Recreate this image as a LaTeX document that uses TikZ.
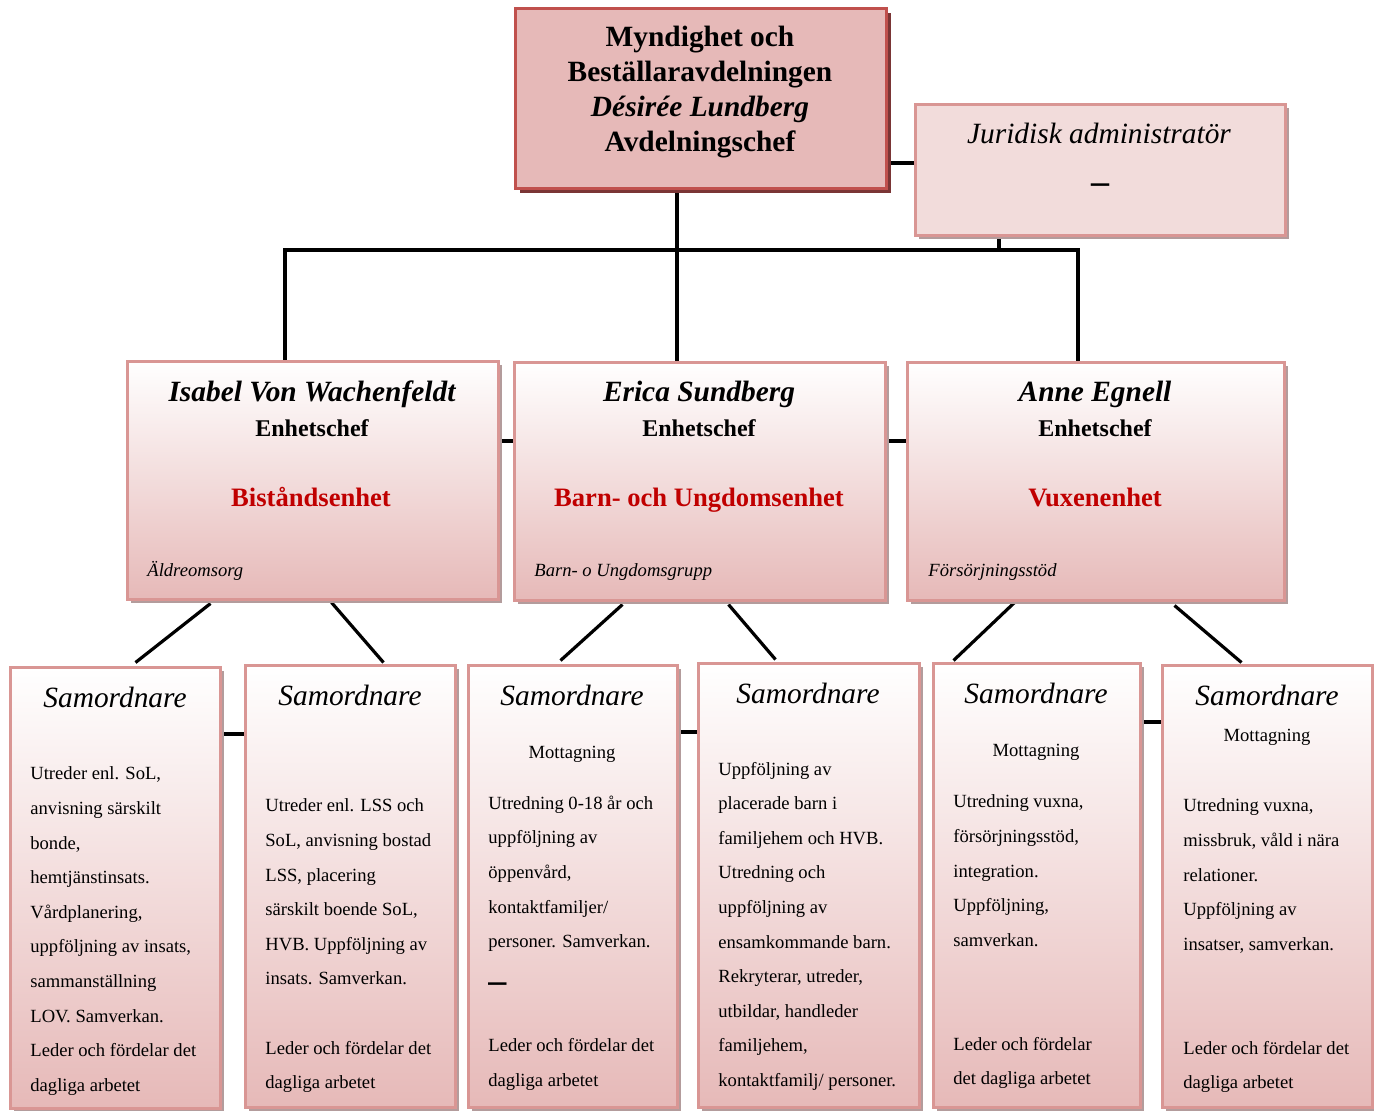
\documentclass[tikz,border=0pt]{standalone}
\usepackage{fontspec}
\setmainfont{Liberation Serif}
\usetikzlibrary{positioning,calc,shadows,backgrounds}
\definecolor{pinkfill}{HTML}{E6B9B8}
\definecolor{lightpink}{HTML}{F2DCDB}
\definecolor{edge}{HTML}{D99694}
\definecolor{topedge}{HTML}{C0504D}
\definecolor{topshade}{HTML}{7A3535}
\definecolor{greyshade}{HTML}{B39C9C}
\definecolor{unitred}{HTML}{C00000}
\newcommand{\bigdash}{{\fontsize{18}{18}\selectfont\bfseries --}}
\tikzset{
  every picture/.style = {
    x = 0.5pt,
    y = -0.5pt,
  }
  ,
  sz/.style 2 args = {
    minimum width = #1*0.5pt,
    minimum height = #2*0.5pt
  }
  , % boxes
  topbox/.style = {
    draw = topedge,
    line width = 1.5pt,
    fill = pinkfill,
    drop shadow = {shadow xshift=2.5pt, shadow yshift=-2.5pt, fill=topshade, opacity=1}
  }
  ,
  jurbox/.style = {
    draw = edge,
    line width = 1.5pt,
    fill = lightpink,
    drop shadow = {shadow xshift=2pt, shadow yshift=-2pt, fill=greyshade, opacity=1}
  }
  ,
  unitbox/.style = {
    draw = edge,
    line width = 1.5pt,
    top color = white,
    bottom color = pinkfill,
    drop shadow = {shadow xshift=2pt, shadow yshift=-2pt, fill=greyshade, opacity=1}
  }
  , % texts
  txt-head/.style = {
    inner sep = 0pt,
    align = center,
    font = \fontsize{14.7}{17.5}\selectfont\bfseries
  }
  ,
  txt-chief/.style = {
    inner sep = 0pt,
    font = \fontsize{14.7}{17.5}\selectfont\bfseries\itshape
  }
  ,
  txt-title/.style = {
    inner sep = 0pt,
    font = \fontsize{12}{14}\selectfont\bfseries
  }
  ,
  txt-unit/.style = {
    inner sep = 0pt,
    text = unitred,
    font = \fontsize{13.3}{16}\selectfont\bfseries
  }
  ,
  txt-group/.style = {
    inner sep = 0pt,
    anchor = west,
    font = \fontsize{9.3}{11}\selectfont\itshape
  }
  ,
  txt-role/.style = {
    inner sep = 0pt,
    font = \fontsize{14.7}{17.5}\selectfont\itshape
  }
  ,
  txt-small/.style = {
    inner sep = 0pt,
    font = \fontsize{9.3}{11}\selectfont
  }
  ,
  txt-body/.style = {
    inner sep = 0pt,
    anchor = north west,
    align = left,
    font = \fontsize{9.3}{17.3}\selectfont
  }
  ,
  link/.style = {
    line width = 1.6pt
  }
}
\begin{document}
\begin{tikzpicture}
\useasboundingbox (0,0) rectangle (1374,1110);

% top
\node[topbox, sz={371}{180}] (avd) at (700.5,98) {};
\node[txt-head] (avdtxt) at (700,92) {Myndighet och\\Beställaravdelningen\\\textit{Désirée Lundberg}\\Avdelningschef};

\node[jurbox, sz={370}{131}] (jur) at (1100,169.5) {};
\node[txt-role] (jurtxt) at (1099,133) {Juridisk administratör};
\node[inner sep=0pt] (jurdash) at (1100,189) {\bigdash};

% units
\node[unitbox, sz={371}{238}] (bist) at (312.5,480) {};
\node[txt-chief] (bistname) at (312,394) {Isabel Von Wachenfeldt};
\node[txt-title] (bisttitle) at (312,428) {Enhetschef};
\node[txt-unit] (bistunit) at (311,497) {Biståndsenhet};
\node[txt-group] (bistgrp) at (147,571) {Äldreomsorg};

\node[unitbox, sz={371}{238}] (barn) at (699.5,481) {};
\node[txt-chief] (barnname) at (699,394) {Erica Sundberg};
\node[txt-title] (barntitle) at (699,428) {Enhetschef};
\node[txt-unit] (barnunit) at (699,500) {Barn- och Ungdomsenhet};
\node[txt-group] (barngrp) at (534,572) {Barn- o Ungdomsgrupp};

\node[unitbox, sz={377}{238}] (vux) at (1095.5,481) {};
\node[txt-chief] (vuxname) at (1095,394) {Anne Egnell};
\node[txt-title] (vuxtitle) at (1095,428) {Enhetschef};
\node[txt-unit] (vuxunit) at (1095,497) {Vuxenenhet};
\node[txt-group] (vuxgrp) at (928,572) {Försörjningsstöd};

% samordnare
\node[unitbox, sz={210}{441}] (sam1) at (115,887.5) {};
\node[txt-role] (sam1role) at (115,697) {Samordnare};
\node[txt-body] (sam1txt) at (30,766.5) {Utreder enl. SoL,\\anvisning särskilt\\bonde,\\hemtjänstinsats.\\Vårdplanering,\\uppföljning av insats,\\sammanställning\\LOV. Samverkan.\\Leder och fördelar det\\dagliga arbetet};

\node[unitbox, sz={210}{442}] (sam2) at (350,886) {};
\node[txt-role] (sam2role) at (350,695) {Samordnare};
\node[txt-body] (sam2txt) at (265,798.5) {Utreder enl. LSS och\\SoL, anvisning bostad\\LSS, placering\\särskilt boende SoL,\\HVB. Uppföljning av\\insats. Samverkan.\\[17.3pt]Leder och fördelar det\\dagliga arbetet};

\node[unitbox, sz={209}{442}] (sam3) at (572.5,886) {};
\node[txt-role] (sam3role) at (572,695) {Samordnare};
\node[txt-small] (sam3mott) at (572,754) {Mottagning};
\node[txt-body] (sam3txt) at (488,795.5) {Utredning 0-18 år och\\uppföljning av\\öppenvård,\\kontaktfamiljer/\\personer. Samverkan.\\[5.2pt]\bigdash\\[12.2pt]Leder och fördelar det\\dagliga arbetet};

\node[unitbox, sz={221}{444}] (sam4) at (808.5,885) {};
\node[txt-role] (sam4role) at (808,693) {Samordnare};
\node[txt-body] (sam4txt) at (718,761.5) {Uppföljning av\\placerade barn i\\familjehem och HVB.\\Utredning och\\uppföljning av\\ensamkommande barn.\\Rekryterar, utreder,\\utbildar, handleder\\familjehem,\\kontaktfamilj/ personer.};

\node[unitbox, sz={207}{444}] (sam5) at (1036.5,885) {};
\node[txt-role] (sam5role) at (1036,693) {Samordnare};
\node[txt-small] (sam5mott) at (1036,752) {Mottagning};
\node[txt-body] (sam5txt) at (953,794.5) {Utredning vuxna,\\försörjningsstöd,\\integration.\\Uppföljning,\\samverkan.\\[34.6pt]Leder och fördelar\\det dagliga arbetet};

\node[unitbox, sz={210}{442}] (sam6) at (1267,886) {};
\node[txt-role] (sam6role) at (1267,695) {Samordnare};
\node[txt-small] (sam6mott) at (1267,737) {Mottagning};
\node[txt-body] (sam6txt) at (1183,798.5) {Utredning vuxna,\\missbruk, våld i nära\\relationer.\\Uppföljning av\\insatser, samverkan.\\[34.6pt]Leder och fördelar det\\dagliga arbetet};

% lines
\begin{scope}[on background layer]
\coordinate (mid) at (677,250);
\coordinate (left) at (285,250);
\coordinate (right) at (1078,250);
\coordinate (jy) at (0,163);
\coordinate (jx) at (999,0);
\coordinate (my) at (0,441);
\coordinate (b1y) at (0,734);
\coordinate (b2y) at (0,732);
\coordinate (b3y) at (0,722);
\draw[link] (avd.south -| mid) -- (barn.north -| mid);
\draw[link] (left |- bist.north) -- (left) -- (right) -- (right |- vux.north);
\draw[link] (avd.east |- jy) -- (jur.west |- jy);
\draw[link] (jur.south -| jx) -- (jx |- mid);
\draw[link] (bist.east |- my) -- (barn.west |- my);
\draw[link] (barn.east |- my) -- (vux.west |- my);
\draw[link] (sam1.east |- b1y) -- (sam2.west |- b1y);
\draw[link] (sam3.east |- b2y) -- (sam4.west |- b2y);
\draw[link] (sam5.east |- b3y) -- (sam6.west |- b3y);
\draw[link] ($(bist.south west)+(85,3)$) -- ($(sam1.north west)+(127,-3)$);
\draw[link] ($(bist.south west)+(206,2)$) -- ($(sam2.north west)+(140,-1)$);
\draw[link] ($(barn.south west)+(110,3)$) -- ($(sam3.north west)+(94,-3)$);
\draw[link] ($(barn.south west)+(216,3)$) -- ($(sam4.north west)+(79,-2)$);
\draw[link] ($(vux.south west)+(109,1)$) -- ($(sam5.north west)+(22,-1)$);
\draw[link] ($(vux.south west)+(269,4)$) -- ($(sam6.north west)+(81,-1)$);
\end{scope}
\end{tikzpicture}
\end{document}
